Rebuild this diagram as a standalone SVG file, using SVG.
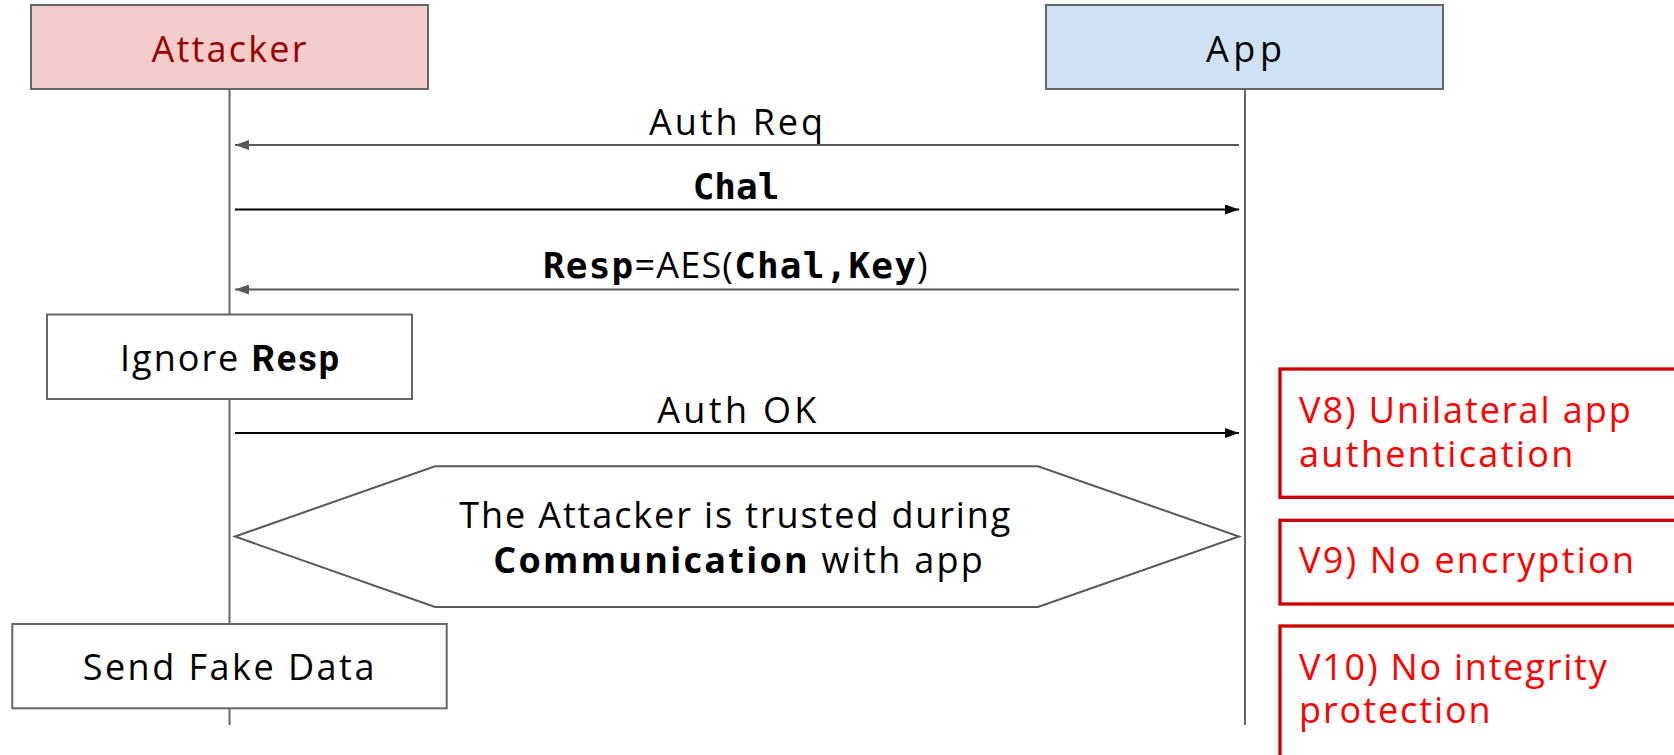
<svg xmlns="http://www.w3.org/2000/svg" width="1674" height="755" viewBox="0 0 1674 755">
  <style>
    .lbl { font-family: "Open Sans", "Liberation Sans", sans-serif; font-size: 36px; fill: #000000; }
    .mono { font-family: "DejaVu Sans Mono", "Liberation Mono", monospace; font-weight: 700; }
    .bold { font-family: "Roboto", "Open Sans", sans-serif; font-weight: 700; }
    .b { font-weight: 700; }
    .box { stroke: #666666; stroke-width: 2; }
    .life { stroke: #666666; stroke-width: 2; fill: none; }
    .msg-gray { stroke: #595959; stroke-width: 2; fill: none; }
    .msg-black { stroke: #000000; stroke-width: 2; fill: none; }
    .vuln { fill: #ffffff; stroke: #cc0000; stroke-width: 3.3; }
    .vuln-text { fill: #ff0000; }
  </style>
  <defs>
    <marker id="head-gray" markerUnits="userSpaceOnUse" markerWidth="14" markerHeight="10" viewBox="0 0 14 10" refX="14" refY="5" orient="auto">
      <path d="M0,0 L14,5 L0,10 z" fill="#595959"/>
    </marker>
    <marker id="head-black" markerUnits="userSpaceOnUse" markerWidth="14" markerHeight="10" viewBox="0 0 14 10" refX="14" refY="5" orient="auto">
      <path d="M0,0 L14,5 L0,10 z" fill="#000000"/>
    </marker>
  </defs>

  <rect width="1674" height="755" fill="#ffffff"/>

  <!-- lifelines -->
  <g id="lifelines">
    <line class="life" x1="229.5" y1="89" x2="229.5" y2="725"/>
    <line class="life" x1="1245" y1="89" x2="1245" y2="725"/>
  </g>

  <!-- participants -->
  <g id="attacker">
    <rect class="box" x="31" y="5" width="397" height="84" fill="#f4cccc"/>
    <text class="lbl" x="151.5" y="62" textLength="155" style="fill:#990000">Attacker</text>
  </g>
  <g id="app">
    <rect class="box" x="1046" y="5" width="397" height="84" fill="#cfe2f3"/>
    <text class="lbl" x="1206" y="62" textLength="76">App</text>
  </g>

  <!-- messages -->
  <g id="connectors">
    <line class="msg-gray" x1="1239" y1="145" x2="235" y2="145" marker-end="url(#head-gray)"/>
    <line class="msg-black" x1="235" y1="209.5" x2="1239" y2="209.5" marker-end="url(#head-black)"/>
    <line class="msg-gray" x1="1239" y1="289.5" x2="235" y2="289.5" marker-end="url(#head-gray)"/>
    <line class="msg-black" x1="235" y1="433" x2="1239" y2="433" marker-end="url(#head-black)"/>
    <text class="lbl" x="649" y="135" textLength="174">Auth Req</text>
    <text class="lbl mono" x="692.7" y="199.3" textLength="86.7">Chal</text>
    <text class="lbl" x="543" y="278" textLength="384.7"><tspan class="mono">Resp</tspan>=AES(<tspan class="mono">Chal,Key</tspan>)</text>
    <text class="lbl" x="657.3" y="423.3" textLength="159">Auth OK</text>
  </g>

  <!-- attacker actions -->
  <g id="ignore-resp">
    <rect class="box" x="47" y="314.5" width="365" height="84.5" fill="#ffffff"/>
    <text class="lbl" x="120" y="371" textLength="219">Ignore <tspan class="bold">Resp</tspan></text>
  </g>

  <g id="trusted-session">
    <polygon points="235,536.5 435,466.3 1038,466.3 1239,536.5 1038,607 435,607" fill="#ffffff" stroke="#595959" stroke-width="2"/>
    <text class="lbl">
      <tspan x="459.3" y="528.3" textLength="551">The Attacker is trusted during</tspan>
      <tspan x="493.3" y="572.7" textLength="489.5"><tspan class="b">Communication</tspan> with app</tspan>
    </text>
  </g>

  <g id="send-fake-data">
    <rect class="box" x="12.3" y="624" width="434.4" height="84.3" fill="#ffffff"/>
    <text class="lbl" x="82.7" y="680" textLength="291.7">Send Fake Data</text>
  </g>

  <!-- vulnerability notes -->
  <g id="v8">
    <rect class="vuln" x="1280" y="369" width="400" height="128.3"/>
    <text class="lbl vuln-text">
      <tspan x="1299" y="422.7" textLength="331.7">V8) Unilateral app</tspan>
      <tspan x="1299" y="466.7" textLength="274.3">authentication</tspan>
    </text>
  </g>
  <g id="v9">
    <rect class="vuln" x="1280" y="520.3" width="400" height="83.7"/>
    <text class="lbl vuln-text" x="1299" y="573.3" textLength="335">V9) No encryption</text>
  </g>
  <g id="v10">
    <rect class="vuln" x="1280" y="626" width="400" height="140"/>
    <text class="lbl vuln-text">
      <tspan x="1299" y="680" textLength="307.7">V10) No integrity</tspan>
      <tspan x="1299" y="723.3" textLength="191.7">protection</tspan>
    </text>
  </g>
</svg>
